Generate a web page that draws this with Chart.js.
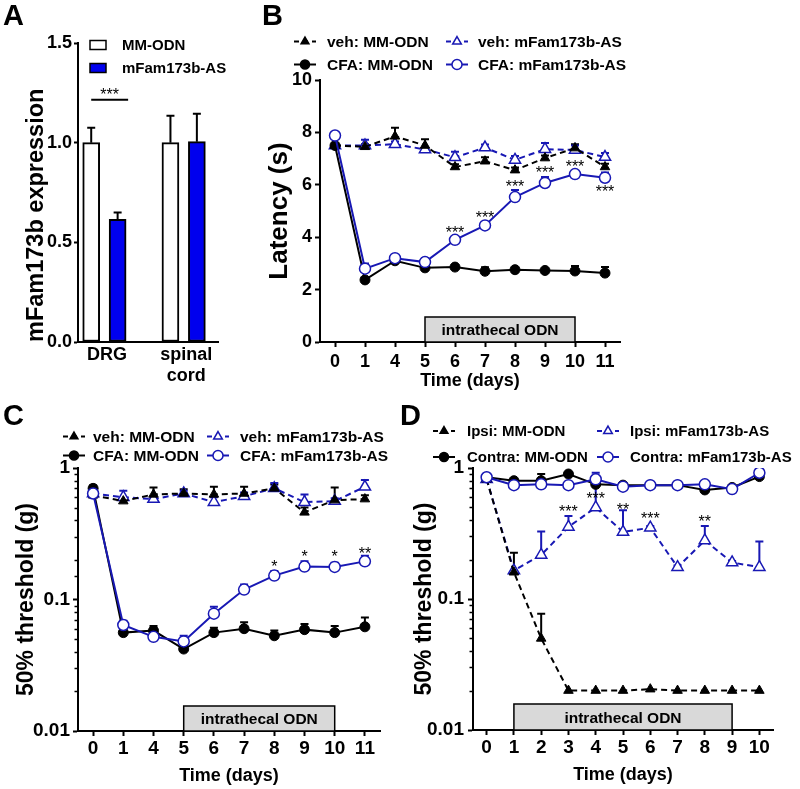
<!DOCTYPE html>
<html>
<head>
<meta charset="utf-8">
<title>mFam173b knockdown</title>
<script src="https://cdn.jsdelivr.net/npm/chart.js@4.4.1/dist/chart.umd.min.js"></script>
<style>
  body { margin: 0; background: #fff; }
  #fig { position: relative; width: 800px; height: 789px; overflow: hidden; }
  #fig canvas { position: absolute; }
  .tag { position: absolute; font: bold 29px 'Liberation Sans', Arial, sans-serif; line-height: 1; }
</style>
</head>
<body>
<div id="fig">
  <canvas id="chartA" width="230" height="390" style="left:0;top:0"></canvas>
  <canvas id="chartB" width="570" height="390" style="left:230px;top:0"></canvas>
  <canvas id="chartC" width="400" height="399" style="left:0;top:390px"></canvas>
  <canvas id="chartD" width="400" height="399" style="left:400px;top:390px"></canvas>
  <div class="tag" style="left:3px;top:1px">A</div>
  <div class="tag" style="left:262px;top:1px">B</div>
  <div class="tag" style="left:3px;top:401px">C</div>
  <div class="tag" style="left:400px;top:401px">D</div>
</div>
<script>
// ---- A: expression ----
const groupsA = ['DRG', ['spinal', 'cord']];
const mmA = [1.0, 1.0];
const mmErrA = [0.075, 0.135];
const asA = [0.615, 1.005];
const asErrA = [0.035, 0.14];

// ---- B: latency (s) ----
const daysB = ['0', '1', '4', '5', '6', '7', '8', '9', '10', '11'];
const vehMmB = [7.5, 7.45, 7.85, 7.5, 6.68, 6.9, 6.56, 7.02, 7.4, 6.68];
const vehMmErrB = [0.05, 0.1, 0.33, 0.24, 0.1, 0.15, 0.1, 0.1, 0.15, 0.12];
const vehAsB = [7.5, 7.5, 7.55, 7.35, 7.05, 7.42, 6.95, 7.36, 7.33, 7.06];
const vehAsErrB = [0.05, 0.22, 0.1, 0.08, 0.21, 0.12, 0.15, 0.24, 0.17, 0.15];
const cfaMmB = [7.5, 2.37, 3.1, 2.83, 2.86, 2.7, 2.76, 2.73, 2.71, 2.63];
const cfaMmErrB = [0.05, 0.05, 0.05, 0.05, 0.05, 0.15, 0.05, 0.05, 0.19, 0.23];
const cfaAsB = [7.88, 2.8, 3.2, 3.05, 3.9, 4.45, 5.53, 6.07, 6.41, 6.27];
const cfaAsErrB = [0.1, 0.2, 0.05, 0.15, 0.05, 0.12, 0.27, 0.23, 0.12, 0.2];
const starsB = ['', '', '', '', '***', '***', '***', '***', '***', '***'];
const starLevelB = [null, null, null, null, 4.31, 4.89, 6.07, 6.6, 6.83, 5.88];

// ---- C: 50% threshold (g), CFA ----
const daysC = ['0', '1', '4', '5', '6', '7', '8', '9', '10', '11'];
const vehMmC = [0.62, 0.56, 0.63, 0.64, 0.63, 0.64, 0.70, 0.46, 0.57, 0.58];
const vehMmErrC = [0.05, 0.03, 0.08, 0.05, 0.09, 0.08, 0.05, 0.04, 0.14, 0.04];
const vehAsC = [0.64, 0.60, 0.58, 0.64, 0.55, 0.61, 0.70, 0.55, 0.56, 0.72];
const vehAsErrC = [0.03, 0.07, 0.03, 0.03, 0.05, 0.04, 0.07, 0.08, 0.03, 0.09];
const cfaMmC = [0.70, 0.056, 0.058, 0.042, 0.056, 0.060, 0.053, 0.059, 0.056, 0.062];
const cfaMmErrC = [0.04, 0.003, 0.005, 0.002, 0.005, 0.007, 0.005, 0.006, 0.007, 0.011];
const cfaAsC = [0.64, 0.064, 0.052, 0.048, 0.078, 0.119, 0.152, 0.178, 0.177, 0.195];
const cfaAsErrC = [0.02, 0.005, 0.002, 0.005, 0.01, 0.011, 0.013, 0.017, 0.013, 0.02];
const starsC = ['', '', '', '', '', '', '*', '*', '*', '**'];
const starLevelC = [null, null, null, null, null, null, 0.188, 0.224, 0.224, 0.24];

// ---- D: 50% threshold (g), ipsi / contra ----
const daysD = ['0', '1', '2', '3', '4', '5', '6', '7', '8', '9', '10'];
const ipsiMmD = [0.82, 0.16, 0.05, 0.02, 0.02, 0.02, 0.0205, 0.02, 0.02, 0.02, 0.02];
const ipsiMmErrD = [0.03, 0.065, 0.027, 0, 0, 0, 0, 0, 0, 0, 0];
const ipsiAsD = [0.82, 0.165, 0.217, 0.355, 0.50, 0.325, 0.35, 0.175, 0.28, 0.19, 0.175];
const ipsiAsErrD = [0.02, 0, 0.11, 0.075, 0.30, 0.15, 0.01, 0.005, 0.08, 0.005, 0.1];
const contraMmD = [0.85, 0.80, 0.80, 0.90, 0.75, 0.74, 0.74, 0.74, 0.68, 0.71, 0.86];
const contraMmErrD = [0.02, 0.02, 0.1, 0.02, 0.02, 0.02, 0.02, 0.02, 0.02, 0.02, 0.02];
const contraAsD = [0.85, 0.74, 0.75, 0.74, 0.82, 0.72, 0.74, 0.74, 0.75, 0.69, 0.92];
const contraAsErrD = [0.02, 0.02, 0.02, 0.02, 0.1, 0.02, 0.02, 0.02, 0.02, 0.02, 0.02];
const starsD = ['', '', '', '***', '***', '**', '***', '', '**', '', ''];
const starLevelD = [null, null, null, 0.495, 0.62, 0.513, 0.438, null, 0.415, null, null];

const FONT = "'Liberation Sans', Arial, sans-serif";
const BLUE = '#1818b4';
const BAR_BLUE = '#0000ee';

Chart.defaults.font.family = FONT;
Chart.defaults.font.weight = 'bold';
Chart.defaults.color = '#000';
Chart.defaults.animation = false;
Chart.defaults.plugins.legend.display = false;
Chart.defaults.plugins.tooltip.enabled = false;

function isDecade(v) {
  const l = Math.log10(v);
  return Math.abs(l - Math.round(l)) < 1e-6;
}

// error bars (upper only), intrathecal box, stars, legends, minor log ticks
const extras = {
  id: 'extras',
  beforeDatasetsDraw(chart, args, opts) {
    const { ctx, chartArea } = chart;
    const xs = chart.scales.x, ys = chart.scales.y;
    if (opts.odn) {
      const labels = chart.data.labels;
      const x1 = xs.getPixelForValue(labels.indexOf(opts.odn.from));
      const x2 = xs.getPixelForValue(labels.indexOf(opts.odn.to));
      const y2 = chartArea.bottom, y1 = y2 - opts.odn.height;
      ctx.save();
      ctx.fillStyle = '#d9d9d9';
      ctx.strokeStyle = '#000';
      ctx.lineWidth = 1.5;
      ctx.fillRect(x1, y1, x2 - x1, y2 - y1);
      ctx.strokeRect(x1, y1, x2 - x1, y2 - y1);
      ctx.fillStyle = '#000';
      ctx.font = 'bold 15.5px ' + FONT;
      ctx.textAlign = 'center';
      ctx.textBaseline = 'alphabetic';
      ctx.fillText(opts.odn.text, (x1 + x2) / 2, (y1 + y2) / 2 + 5.5);
      ctx.restore();
    }
    chart.data.datasets.forEach((ds, i) => {
      if (!ds.errUp) return;
      const meta = chart.getDatasetMeta(i);
      ctx.save();
      ctx.strokeStyle = ds.errColor || ds.borderColor;
      ctx.lineWidth = 2;
      meta.data.forEach((el, j) => {
        const e = ds.errUp[j];
        if (!e) return;
        const d = ds.data[j];
        const v = typeof d === 'object' ? d.y : d;
        const top = ys.getPixelForValue(v + e);
        ctx.beginPath();
        ctx.moveTo(el.x, el.y);
        ctx.lineTo(el.x, top);
        ctx.moveTo(el.x - 4, top);
        ctx.lineTo(el.x + 4, top);
        ctx.stroke();
      });
      ctx.restore();
    });
  },
  afterDatasetsDraw(chart, args, opts) {
    const ctx = chart.ctx;
    const xs = chart.scales.x, ys = chart.scales.y;
    ctx.save();
    ctx.fillStyle = '#000';
    ctx.textAlign = 'center';
    ctx.textBaseline = 'alphabetic';
    ctx.font = '16px ' + FONT;
    if (opts.stars) {
      opts.stars.text.forEach((s, j) => {
        if (!s) return;
        const x = xs.getPixelForValue(j);
        const y = ys.getPixelForValue(opts.stars.level[j]);
        ctx.fillText(s, x, y + 9);
      });
    }
    if (opts.sig) {
      const a = chart.getDatasetMeta(0).data[0];
      const b = chart.getDatasetMeta(1).data[0];
      const x1 = a.x, x2 = b.x + b.width / 2 + 2;
      const y = ys.getPixelForValue(opts.sig.level);
      ctx.strokeStyle = '#000';
      ctx.lineWidth = 2;
      ctx.beginPath();
      ctx.moveTo(x1, y);
      ctx.lineTo(x2, y);
      ctx.stroke();
      ctx.fillText(opts.sig.text, (x1 + x2) / 2, y);
    }
    ctx.restore();
  },
  afterDraw(chart, args, opts) {
    const ctx = chart.ctx;
    const ys = chart.scales.y;
    if (ys.type === 'logarithmic') {
      ctx.save();
      ctx.strokeStyle = '#000';
      ctx.lineWidth = 1.5;
      ys.ticks.forEach(t => {
        if (isDecade(t.value)) return;
        const p = Math.round(ys.getPixelForValue(t.value)) + 0.5;
        ctx.beginPath();
        ctx.moveTo(ys.right, p);
        ctx.lineTo(ys.right - 3.5, p);
        ctx.stroke();
      });
      ctx.restore();
    }
    const L = opts.legend;
    if (!L) return;
    const perRow = L.perRow || 2;
    ctx.save();
    ctx.font = 'bold ' + L.size + 'px ' + FONT;
    ctx.textAlign = 'left';
    ctx.textBaseline = 'alphabetic';
    L.items.forEach((it, k) => {
      const col = k % perRow, row = Math.floor(k / perRow);
      const cx = L.symX[col], cy = L.rows[row];
      if (it.box) {
        ctx.fillStyle = it.fill;
        ctx.strokeStyle = '#000';
        ctx.lineWidth = 1.5;
        ctx.fillRect(cx - 8, cy - 4.5, 16, 9);
        ctx.strokeRect(cx - 8, cy - 4.5, 16, 9);
      } else {
        ctx.strokeStyle = it.color;
        ctx.lineWidth = 2;
        ctx.setLineDash(it.dash ? [5, 4] : []);
        ctx.beginPath();
        ctx.moveTo(cx - 11, cy);
        ctx.lineTo(cx + 11, cy);
        ctx.stroke();
        ctx.setLineDash([]);
        ctx.fillStyle = it.filled ? it.color : '#fff';
        ctx.lineWidth = 1.5;
        Chart.helpers.drawPoint(ctx, { pointStyle: it.point, radius: it.r, borderWidth: 1.5, rotation: 0 }, cx, cy);
      }
      ctx.fillStyle = '#000';
      ctx.fillText(it.text, L.textX[col], cy + L.size * 0.36);
    });
    ctx.restore();
  }
};
Chart.register(extras);

const STYLES = {
  mmDash: { borderColor: '#000', borderDash: [6, 4], pointStyle: 'triangle', pointRadius: 5.5, pointBackgroundColor: '#000', pointBorderWidth: 1 },
  asDash: { borderColor: BLUE, borderDash: [6, 4], pointStyle: 'triangle', pointRadius: 6.5, pointBackgroundColor: '#fff', pointBorderWidth: 1.5 },
  mmSolid: { borderColor: '#000', pointStyle: 'circle', pointRadius: 5, pointBackgroundColor: '#000', pointBorderWidth: 1 },
  asSolid: { borderColor: BLUE, pointStyle: 'circle', pointRadius: 5.5, pointBackgroundColor: '#fff', pointBorderWidth: 1.5 }
};

function series(label, values, err, kind) {
  return Object.assign({ label: label, data: values, errUp: err, borderWidth: 2, tension: 0 }, STYLES[kind]);
}

function legendItems(names) {
  return [
    { text: names[0], color: '#000', dash: true, point: 'triangle', filled: true, r: 4.5 },
    { text: names[1], color: BLUE, dash: true, point: 'triangle', filled: false, r: 5 },
    { text: names[2], color: '#000', dash: false, point: 'circle', filled: true, r: 4.5 },
    { text: names[3], color: BLUE, dash: false, point: 'circle', filled: false, r: 5 }
  ];
}

function timeChart(id, p) {
  const yLog = p.log;
  const yTitle = { display: true, text: p.yTitle, font: { size: p.yTitleSize, weight: 'bold' }, padding: { top: p.yTitlePad, bottom: 0 } };
  return new Chart(document.getElementById(id), {
    type: 'line',
    data: { labels: p.labels, datasets: p.datasets },
    options: {
      responsive: false,
      events: [],
      layout: { padding: p.padding },
      scales: {
        x: {
          type: 'category',
          offset: true,
          grid: { drawOnChartArea: false, tickLength: 5, tickWidth: 2, tickColor: '#000' },
          border: { color: '#000', width: 2 },
          ticks: { font: { size: p.tickSize, weight: 'bold' }, padding: p.xPad, maxRotation: 0, autoSkip: false },
          title: { display: true, text: 'Time (days)', font: { size: 18, weight: 'bold' }, padding: { top: 0, bottom: p.xTitlePad } },
          afterFit(s) { s.height = p.xHeight; }
        },
        y: yLog ? {
          type: 'logarithmic',
          min: 0.01,
          max: 1,
          grid: {
            drawOnChartArea: false, tickLength: 5, tickWidth: 2,
            tickColor: c => (c.tick && isDecade(c.tick.value)) ? '#000' : 'rgba(0,0,0,0)'
          },
          border: { color: '#000', width: 2 },
          ticks: {
            autoSkip: false,
            font: { size: p.tickSize, weight: 'bold' },
            padding: p.yPad,
            callback: v => {
              if (!isDecade(v)) return '';
              const e = Math.round(Math.log10(v));
              return e >= 0 ? String(Math.pow(10, e)) : Math.pow(10, e).toFixed(-e);
            }
          },
          title: yTitle,
          afterFit(s) { s.width = p.yWidth; }
        } : {
          min: p.yMin,
          max: p.yMax,
          grid: { drawOnChartArea: false, tickLength: 5, tickWidth: 2, tickColor: '#000' },
          border: { color: '#000', width: 2 },
          ticks: { stepSize: p.yStep, font: { size: p.tickSize, weight: 'bold' }, padding: p.yPad },
          title: yTitle,
          afterFit(s) { s.width = p.yWidth; }
        }
      },
      plugins: { extras: p.extras }
    }
  });
}

// ---- Panel A (bars on a linear x scale: two groups with a one-bar gap) ----
new Chart(document.getElementById('chartA'), {
  type: 'bar',
  data: {
    datasets: [
      {
        label: 'MM-ODN',
        data: groupsA.map((g, i) => ({ x: i * 3, y: mmA[i] })),
        errUp: mmErrA, errColor: '#000',
        backgroundColor: '#fff', borderColor: '#000', borderWidth: 2, borderSkipped: false,
        barThickness: 17, grouped: false
      },
      {
        label: 'mFam173b-AS',
        data: groupsA.map((g, i) => ({ x: i * 3 + 1, y: asA[i] })),
        errUp: asErrA, errColor: '#000',
        backgroundColor: BAR_BLUE, borderColor: '#000', borderWidth: 2, borderSkipped: false,
        barThickness: 17, grouped: false
      }
    ]
  },
  options: {
    responsive: false,
    events: [],
    layout: { padding: { left: 0, top: 43, right: 12, bottom: 0 } },
    scales: {
      x: {
        type: 'linear',
        offset: false,
        min: -0.5,
        max: 4.8,
        grid: { display: false, drawTicks: false, offset: false },
        border: { display: true, color: '#000', width: 2 },
        afterBuildTicks(s) { s.ticks = groupsA.map((g, i) => ({ value: i * 3 + 0.6 })); },
        ticks: { font: { size: 18, weight: 'bold' }, padding: 2, maxRotation: 0, autoSkip: false, callback: (v, i) => groupsA[i] },
        afterFit(s) { s.height = 48; }
      },
      y: {
        min: 0,
        max: 1.5,
        grid: { drawOnChartArea: false, tickLength: 4, tickWidth: 2, tickColor: '#000' },
        border: { color: '#000', width: 2 },
        ticks: { stepSize: 0.5, font: { size: 18, weight: 'bold' }, padding: 2, callback: v => v.toFixed(1) },
        title: { display: true, text: 'mFam173b expression', align: 'start', font: { size: 23.5, weight: 'bold' }, padding: { top: 22, bottom: 0 } },
        afterFit(s) { s.width = 78; }
      }
    },
    plugins: {
      extras: {
        sig: { text: '***', level: 1.215 },
        legend: {
          perRow: 1,
          size: 15,
          symX: [98],
          textX: [122],
          rows: [45, 68],
          items: [
            { text: 'MM-ODN', box: true, fill: '#fff' },
            { text: 'mFam173b-AS', box: true, fill: BAR_BLUE }
          ]
        }
      }
    }
  }
});

// ---- Panel B ----
timeChart('chartB', {
  labels: daysB,
  datasets: [
    series('CFA: mFam173b-AS', cfaAsB, cfaAsErrB, 'asSolid'),
    series('CFA: MM-ODN', cfaMmB, cfaMmErrB, 'mmSolid'),
    series('veh: MM-ODN', vehMmB, vehMmErrB, 'mmDash'),
    series('veh: mFam173b-AS', vehAsB, vehAsErrB, 'asDash')
  ],
  padding: { left: 30, top: 80, right: 180, bottom: 0 },
  yWidth: 60, xHeight: 48, yTitlePad: 4, xTitlePad: -2,
  tickSize: 18, xPad: 4, yPad: 3,
  yMin: 0, yMax: 10, yStep: 2,
  yTitle: 'Latency (s)', yTitleSize: 26,
  extras: {
    odn: { from: '5', to: '10', text: 'intrathecal ODN', height: 25 },
    stars: { text: starsB, level: starLevelB },
    legend: {
      size: 15.5, symX: [75, 227], textX: [97, 248], rows: [41.5, 64.5],
      items: legendItems(['veh: MM-ODN', 'veh: mFam173b-AS', 'CFA: MM-ODN', 'CFA: mFam173b-AS'])
    }
  }
});

// ---- Panel C ----
timeChart('chartC', {
  labels: daysC,
  log: true,
  datasets: [
    series('CFA: mFam173b-AS', cfaAsC, cfaAsErrC, 'asSolid'),
    series('CFA: MM-ODN', cfaMmC, cfaMmErrC, 'mmSolid'),
    series('veh: MM-ODN', vehMmC, vehMmErrC, 'mmDash'),
    series('veh: mFam173b-AS', vehAsC, vehAsErrC, 'asDash')
  ],
  padding: { left: 0, top: 78, right: 20, bottom: 0 },
  yWidth: 78, xHeight: 58, yTitlePad: 13, xTitlePad: 2,
  tickSize: 19, xPad: 1, yPad: 3,
  yTitle: '50% threshold (g)', yTitleSize: 23,
  extras: {
    odn: { from: '5', to: '10', text: 'intrathecal ODN', height: 25 },
    stars: { text: starsC, level: starLevelC },
    legend: {
      size: 15.5, symX: [74, 218], textX: [93, 240], rows: [46.5, 65.5],
      items: legendItems(['veh: MM-ODN', 'veh: mFam173b-AS', 'CFA: MM-ODN', 'CFA: mFam173b-AS'])
    }
  }
});

// ---- Panel D ----
timeChart('chartD', {
  labels: daysD,
  log: true,
  datasets: [
    series('Contra: mFam173b-AS', contraAsD, contraAsErrD, 'asSolid'),
    series('Contra: MM-ODN', contraMmD, contraMmErrD, 'mmSolid'),
    series('Ipsi: MM-ODN', ipsiMmD, ipsiMmErrD, 'mmDash'),
    series('Ipsi: mFam173b-AS', ipsiAsD, ipsiAsErrD, 'asDash')
  ],
  padding: { left: 0, top: 78, right: 27, bottom: 0 },
  yWidth: 73, xHeight: 59, yTitlePad: 11, xTitlePad: 3,
  tickSize: 19, xPad: 1, yPad: 4,
  yTitle: '50% threshold (g)', yTitleSize: 23,
  extras: {
    odn: { from: '1', to: '9', text: 'intrathecal ODN', height: 26 },
    stars: { text: starsD, level: starLevelD },
    legend: {
      size: 15, symX: [44, 208], textX: [67, 230], rows: [41, 67],
      items: legendItems(['Ipsi: MM-ODN', 'Ipsi: mFam173b-AS', 'Contra: MM-ODN', 'Contra: mFam173b-AS'])
    }
  }
});
</script>
</body>
</html>
